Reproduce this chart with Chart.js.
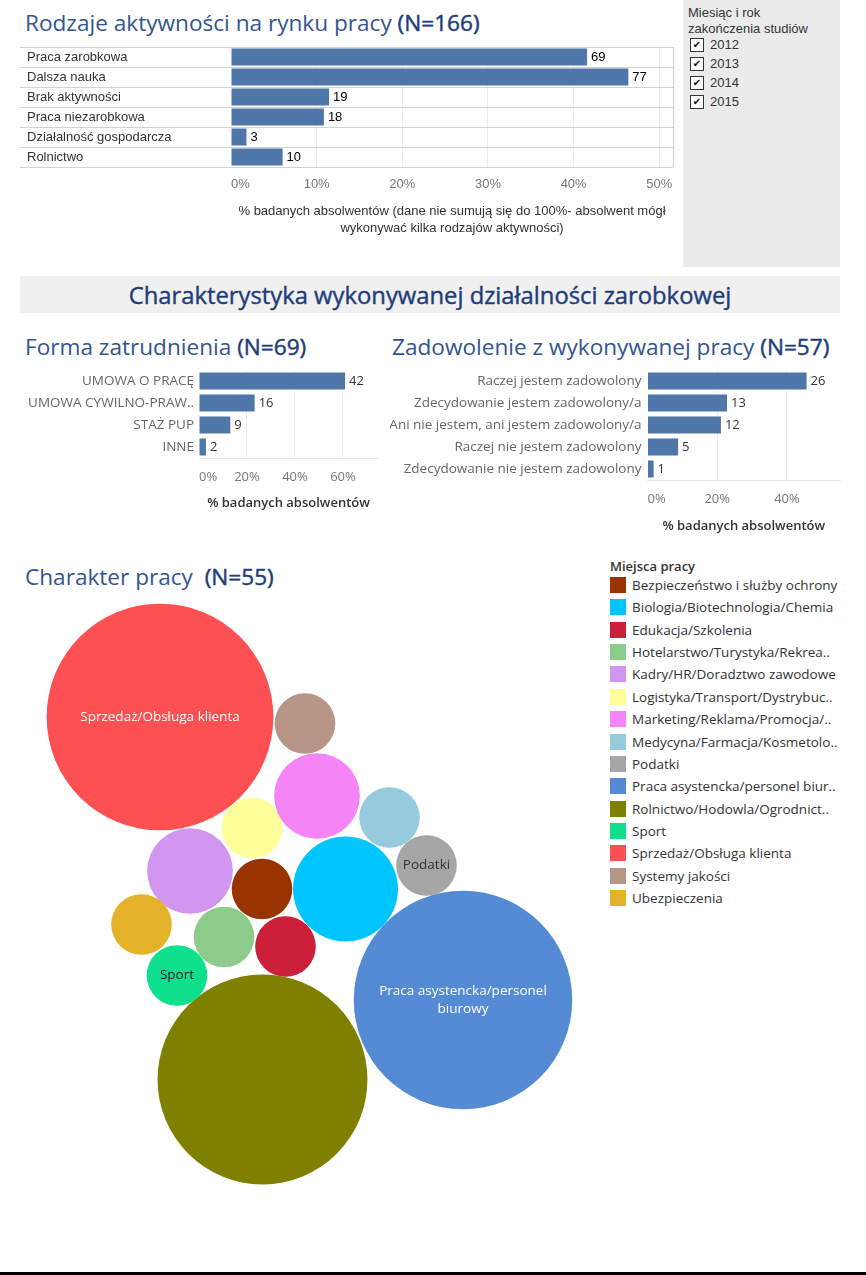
<!DOCTYPE html>
<html>
<head>
<meta charset="utf-8">
<script src="https://cdn.jsdelivr.net/npm/chart.js@4.4.1/dist/chart.umd.min.js"></script>
<style>
html,body{margin:0;padding:0;background:#fff;}
body{width:866px;height:1275px;position:relative;overflow:hidden;font-family:"Open Sans",sans-serif;}
.abs{position:absolute;}
.title{font-size:22.6px;line-height:26px;color:#34558f;white-space:nowrap;}
.title b{font-weight:400;color:#1f3d7a;-webkit-text-stroke:0.45px #1f3d7a;}
#filter{left:683px;top:0;width:157px;height:267px;background:#ebebeb;font-family:"Liberation Sans",Arial,sans-serif;font-size:13px;color:#333;}
#filter .hdr{position:absolute;left:5px;top:5px;line-height:16px;}
#filter .item{position:absolute;left:7px;height:19px;line-height:19px;}
#filter .box{display:inline-block;width:12px;height:12px;border:1px solid #333;background:#fff;vertical-align:middle;position:relative;top:-1px;margin-right:6px;font-family:"DejaVu Sans";font-size:10px;line-height:12px;text-align:center;color:#111;}
#band{left:20px;top:276px;width:820px;height:37px;background:#f0f0f0;text-align:center;font-size:23.8px;line-height:38px;color:#1f3d7a;font-weight:400;-webkit-text-stroke:0.4px #1f3d7a;white-space:nowrap;}
#legend{left:610px;top:556px;width:256px;font-size:13.5px;color:#333;}
#legend .lt{position:absolute;left:0;top:0;line-height:20px;font-weight:600;font-size:13px;}
#legend .row{position:absolute;left:0;height:20px;line-height:20px;white-space:nowrap;}
#legend .sw{position:absolute;left:0;top:2px;width:16px;height:16px;}
#legend .tx{position:absolute;left:22px;top:0;}
#bottombar{left:0;top:1272px;width:866px;height:3px;background:#000;}
canvas{position:absolute;}
</style>
</head>
<body>

<div class="abs title" style="left:25px;top:10px;">Rodzaje aktywności na rynku pracy <b>(N=166)</b></div>
<div class="abs" id="filter"></div>
<canvas id="c1" width="670" height="201" style="left:20px;top:39px;"></canvas>

<div class="abs" id="band">Charakterystyka wykonywanej działalności zarobkowej</div>

<div class="abs title" style="left:25px;top:334px;">Forma zatrudnienia <b>(N=69)</b></div>
<div class="abs title" style="left:392px;top:334px;">Zadowolenie z wykonywanej pracy <b>(N=57)</b></div>
<canvas id="c2" width="370" height="160" style="left:20px;top:355px;"></canvas>
<canvas id="c3" width="462" height="183" style="left:390px;top:355px;"></canvas>

<div class="abs title" style="left:25px;top:564px;">Charakter pracy&nbsp; <b>(N=55)</b></div>
<canvas id="c4" width="600" height="610" style="left:0px;top:590px;"></canvas>
<div class="abs" id="legend"></div>

<div class="abs" id="bottombar"></div>

<script>
// ---------------- DATA ----------------
const activityCategories = ['Praca zarobkowa','Dalsza nauka','Brak aktywności','Praca niezarobkowa','Działalność gospodarcza','Rolnictwo'];
const activityCounts = [69, 77, 19, 18, 3, 10];
const activityN = 166;
const activityTicks = [0, 10, 20, 30, 40, 50];

const filterTitle = ['Miesiąc i rok', 'zakończenia studiów'];
const filterYears = ['2012', '2013', '2014', '2015'];

const formCategories = ['UMOWA O PRACĘ','UMOWA CYWILNO-PRAW..','STAŻ PUP','INNE'];
const formCounts = [42, 16, 9, 2];
const formN = 69;
const formTicks = [0, 20, 40, 60];

const satisfactionCategories = ['Raczej jestem zadowolony','Zdecydowanie jestem zadowolony/a','Ani nie jestem, ani jestem zadowolony/a','Raczej nie jestem zadowolony','Zdecydowanie nie jestem zadowolony'];
const satisfactionCounts = [26, 13, 12, 5, 1];
const satisfactionN = 57;
const satisfactionTicks = [0, 20, 40];

const workplaceCategories = ['Bezpieczeństwo i służby ochrony','Biologia/Biotechnologia/Chemia','Edukacja/Szkolenia','Hotelarstwo/Turystyka/Rekrea..','Kadry/HR/Doradztwo zawodowe','Logistyka/Transport/Dystrybuc..','Marketing/Reklama/Promocja/..','Medycyna/Farmacja/Kosmetolo..','Podatki','Praca asystencka/personel biur..','Rolnictwo/Hodowla/Ogrodnict..','Sport','Sprzedaż/Obsługa klienta','Systemy jakości','Ubezpieczenia'];
const workplaceCounts = [1, 3, 1, 1, 2, 1, 2, 1, 1, 13, 12, 1, 14, 1, 1];
// packed-bubble layout values (x / y of the bubble series)
const packX = [262, 345.5, 285.5, 224, 190, 252, 317, 389.5, 426.5, 463, 262.5, 177, 160, 305, 141.5];
const packY = [299, 299, 356.5, 347, 281, 238, 206, 227.5, 275.5, 410, 489.5, 385.5, 127, 133.5, 334.5];
const bubbleLabels = ['', '', '', '', '', '', '', '', 'Podatki', ['Praca asystencka/personel','biurowy'], '', 'Sport', 'Sprzedaż/Obsługa klienta', '', ''];

// ---------------- STYLES ----------------
const barColor = '#4e76a8';
const workplaceColors = ['#993300','#00c5ff','#cc1f3a','#8ccb8a','#d196f0','#ffff99','#f584f7','#96cadc','#a6a6a6','#558bd4','#808000','#0fe08e','#fd5053','#b89687','#e4b228'];
const bubbleLabelColors = ['#333','#333','#333','#333','#333','#333','#333','#333','#333','#fff','#fff','#222','#fff','#333','#333'];
const bubbleUnit = 30.3;

Chart.defaults.font.family = '"Open Sans", sans-serif';
Chart.defaults.animation = false;

// ---------------- FILTER PANEL ----------------
(function(){
  const f = document.getElementById('filter');
  const h = document.createElement('div'); h.className='hdr'; h.innerHTML = filterTitle.join('<br>'); f.appendChild(h);
  filterYears.forEach((y,i)=>{
    const d = document.createElement('div'); d.className='item'; d.style.top = (35 + i*19) + 'px';
    d.innerHTML = '<span class="box">✔</span>' + y; f.appendChild(d);
  });
})();

// ---------------- PLUGINS ----------------
const valueLabels = {
  id: 'valueLabels',
  afterDatasetsDraw(chart, args, opts) {
    const ctx = chart.ctx; const ds = chart.data.datasets[0]; const meta = chart.getDatasetMeta(0);
    ctx.save(); ctx.font = opts.font; ctx.fillStyle = opts.color; ctx.textBaseline = 'middle'; ctx.textAlign = 'left';
    meta.data.forEach((bar, i) => ctx.fillText(String(ds.counts[i]), bar.x + opts.offset, bar.y + 0.5));
    ctx.restore();
  }
};

function barChart(id, o) {
  const ticks = o.ticks.concat([o.max]);
  return new Chart(document.getElementById(id), {
    type: 'bar',
    data: { labels: o.labels, datasets: [{ data: o.counts.map(c => c / o.n * 100), counts: o.counts, backgroundColor: barColor, barPercentage: o.barPct, categoryPercentage: 1 }] },
    options: {
      indexAxis: 'y', responsive: false, animation: false, events: [],
      layout: { padding: o.padding },
      plugins: { legend: { display: false }, tooltip: { enabled: false },
        valueLabels: { font: o.valueFont, color: o.valueColor, offset: 4 } },
      scales: {
        x: {
          min: 0, max: o.max,
          afterBuildTicks: s => { s.ticks = ticks.map(v => ({ value: v })); },
          afterFit: s => { s.height = o.xHeight; },
          grid: { drawTicks: false, color: ctx => (ctx.tick && ctx.tick.value === o.max) ? o.frameColor : (ctx.tick && ctx.tick.value === 0 ? 'rgba(0,0,0,0)' : o.gridColor) },
          border: { display: o.xBorder, color: '#e6e6e6' },
          ticks: { align: 'inner', padding: o.tickPad, color: o.tickColor, font: o.tickFont, maxRotation: 0, autoSkip: false,
            callback: v => (o.ticks.indexOf(v) >= 0 ? v + '%' : '') },
          title: { display: true, text: o.title, color: o.titleColor, font: o.titleFont, padding: { top: 0, bottom: o.titlePadBottom } }
        },
        y: {
          afterFit: s => { s.width = o.yWidth; },
          grid: o.rowLines ? { color: '#d2d2d2', tickLength: o.rowTick, drawTicks: true, offset: true } : { display: false, drawTicks: false },
          border: { display: false },
          ticks: { crossAlign: o.crossAlign, padding: o.yPad, color: o.labelColor, font: o.labelFont, autoSkip: false }
        }
      }
    },
    plugins: [valueLabels]
  });
}

// Chart 1: Rodzaje aktywności
barChart('c1', {
  labels: activityCategories, counts: activityCounts, n: activityN, ticks: activityTicks, max: 51.6,
  padding: { left: 7, top: 8, right: 17, bottom: 0 }, xHeight: 73, yWidth: 204, barPct: 0.85,
  rowLines: true, rowTick: 211, crossAlign: 'far', yPad: 0,
  gridColor: '#ededed', frameColor: '#cfcfcf', xBorder: false,
  tickPad: 10, tickColor: '#777', tickFont: { family: '"Liberation Sans", Arial', size: 13 },
  labelColor: '#333', labelFont: { family: '"Liberation Sans", Arial', size: 13 },
  valueFont: '13px "Liberation Sans", Arial', valueColor: '#000',
  title: ['% badanych absolwentów (dane nie sumują się do 100%- absolwent mógł', 'wykonywać kilka rodzajów aktywności)'],
  titleColor: '#333', titleFont: { family: '"Liberation Sans", Arial', size: 13, lineHeight: 17 / 13 }, titlePadBottom: 3.5
});

// Chart 2: Forma zatrudnienia
barChart('c2', {
  labels: formCategories, counts: formCounts, n: formN, ticks: formTicks, max: 74.6,
  padding: { left: 0, top: 15, right: 12, bottom: 0 }, xHeight: 57, yWidth: 179, barPct: 0.773,
  rowLines: false, crossAlign: 'near', yPad: 5,
  gridColor: '#ededed', frameColor: 'rgba(0,0,0,0)', xBorder: true,
  tickPad: 11, tickColor: '#777', tickFont: { size: 13 },
  labelColor: '#666', labelFont: { size: 13.5 },
  valueFont: '13px "Open Sans"', valueColor: '#333',
  title: '% badanych absolwentów',
  titleColor: '#333', titleFont: { size: 13, weight: 600 }, titlePadBottom: 4.2
});

// Chart 3: Zadowolenie
barChart('c3', {
  labels: satisfactionCategories, counts: satisfactionCounts, n: satisfactionN, ticks: satisfactionTicks, max: 55.2,
  padding: { left: 0, top: 15, right: 12, bottom: 0 }, xHeight: 58, yWidth: 257.5, barPct: 0.773,
  rowLines: false, crossAlign: 'near', yPad: 6,
  gridColor: '#ededed', frameColor: 'rgba(0,0,0,0)', xBorder: true,
  tickPad: 11, tickColor: '#777', tickFont: { size: 13 },
  labelColor: '#666', labelFont: { size: 13.5 },
  valueFont: '13px "Open Sans"', valueColor: '#333',
  title: '% badanych absolwentów',
  titleColor: '#333', titleFont: { size: 13, weight: 600 }, titlePadBottom: 4.2
});

// Chart 4: Charakter pracy (packed bubbles)
const bubbleText = {
  id: 'bubbleText',
  afterDatasetsDraw(chart) {
    const ctx = chart.ctx; const meta = chart.getDatasetMeta(0);
    ctx.save(); ctx.font = '13.5px "Open Sans"'; ctx.textAlign = 'center'; ctx.textBaseline = 'middle';
    meta.data.forEach((pt, i) => {
      const t = bubbleLabels[i]; if (!t) return;
      const lines = Array.isArray(t) ? t : [t]; const lh = 18;
      const y0 = pt.y - (lines.length - 1) * lh / 2;
      ctx.fillStyle = bubbleLabelColors[i];
      lines.forEach((l, k) => ctx.fillText(l, pt.x, y0 + k * lh));
    });
    ctx.restore();
  }
};
new Chart(document.getElementById('c4'), {
  type: 'bubble',
  data: {
    labels: workplaceCategories,
    datasets: [{
      data: workplaceCategories.map((c, i) => ({ x: packX[i], y: packY[i], r: bubbleUnit * Math.sqrt(workplaceCounts[i]) })),
      backgroundColor: workplaceColors, borderWidth: 0, hoverRadius: 0, clip: false
    }]
  },
  options: {
    responsive: false, animation: false, events: [],
    layout: { padding: 0, autoPadding: false },
    plugins: { legend: { display: false }, tooltip: { enabled: false } },
    scales: {
      x: { type: 'linear', min: 0, max: 600, display: false },
      y: { type: 'linear', min: 0, max: 610, reverse: true, display: false }
    }
  },
  plugins: [bubbleText]
});

// Legend (Miejsca pracy)
(function(){
  const L = document.getElementById('legend');
  const t = document.createElement('div'); t.className = 'lt'; t.textContent = 'Miejsca pracy'; L.appendChild(t);
  workplaceCategories.forEach((c, i) => {
    const r = document.createElement('div'); r.className = 'row'; r.style.top = (19 + i * 22.36) + 'px';
    r.innerHTML = '<span class="sw" style="background:' + workplaceColors[i] + '"></span><span class="tx"></span>';
    r.querySelector('.tx').textContent = c; L.appendChild(r);
  });
})();
</script>
</body>
</html>
